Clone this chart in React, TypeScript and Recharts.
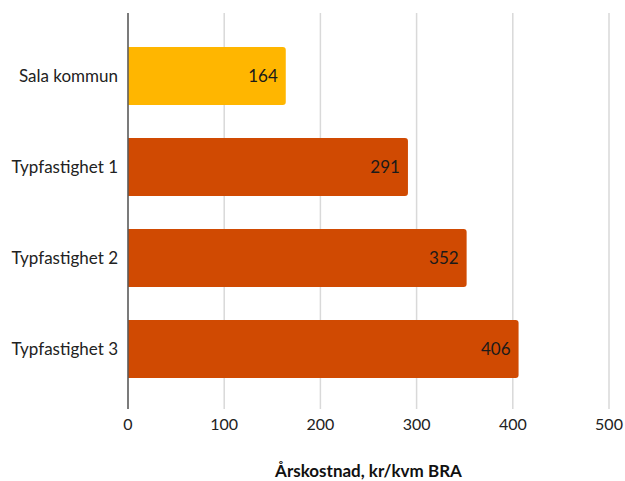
import React from "react";
import { BarChart, Bar, XAxis, YAxis, CartesianGrid, Cell, LabelList } from "recharts";

const categories = ["Sala kommun", "Typfastighet 1", "Typfastighet 2", "Typfastighet 3"];
const values = [164, 291, 352, 406];
const barColors = ["#FFB600", "#D04A02", "#D04A02", "#D04A02"];
const xTicks = [0, 100, 200, 300, 400, 500];
const xTitle = "Årskostnad, kr/kvm BRA";

const data = categories.map((c, i) => ({ name: c, value: values[i] }));

const FONT = "Lato, 'Noto Sans', sans-serif";

export default function App() {
  return (
    <div style={{ position: "absolute", left: 0, top: 0, background: "#fff" }}>
      <BarChart
        width={625}
        height={481}
        data={data}
        layout="vertical"
        margin={{ top: 13, right: 16, bottom: 0, left: 0 }}
        barSize={58}
      >
        <CartesianGrid horizontal={false} stroke="#d9d9d9" strokeWidth={1.5} />
        <XAxis
          type="number"
          domain={[0, 500]}
          ticks={xTicks}
          axisLine={false}
          tickLine={false}
          tickSize={6}
          tickMargin={4}
          height={72}
          tick={{ fill: "#222", fontSize: 16, fontFamily: FONT }}
          label={{
            value: xTitle,
            position: "insideBottom",
            offset: 4,
            fill: "#111",
            fontSize: 17,
            fontWeight: 700,
            fontFamily: FONT,
          }}
        />
        <YAxis
          type="category"
          dataKey="name"
          width={128}
          padding={{ top: 17, bottom: 15 }}
          tickLine={false}
          axisLine={{ stroke: "#595959", strokeWidth: 1.5 }}
          tickMargin={4}
          tick={{ fill: "#222", fontSize: 17, fontFamily: FONT }}
        />
        <Bar dataKey="value" isAnimationActive={false} radius={[0, 3, 3, 0]}>
          {data.map((d, i) => (
            <Cell key={d.name} fill={barColors[i]} />
          ))}
          <LabelList
            dataKey="value"
            position="insideRight"
            offset={8}
            fill="#1a1a1a"
            fontSize={17}
            fontFamily={FONT}
          />
        </Bar>
      </BarChart>
    </div>
  );
}
